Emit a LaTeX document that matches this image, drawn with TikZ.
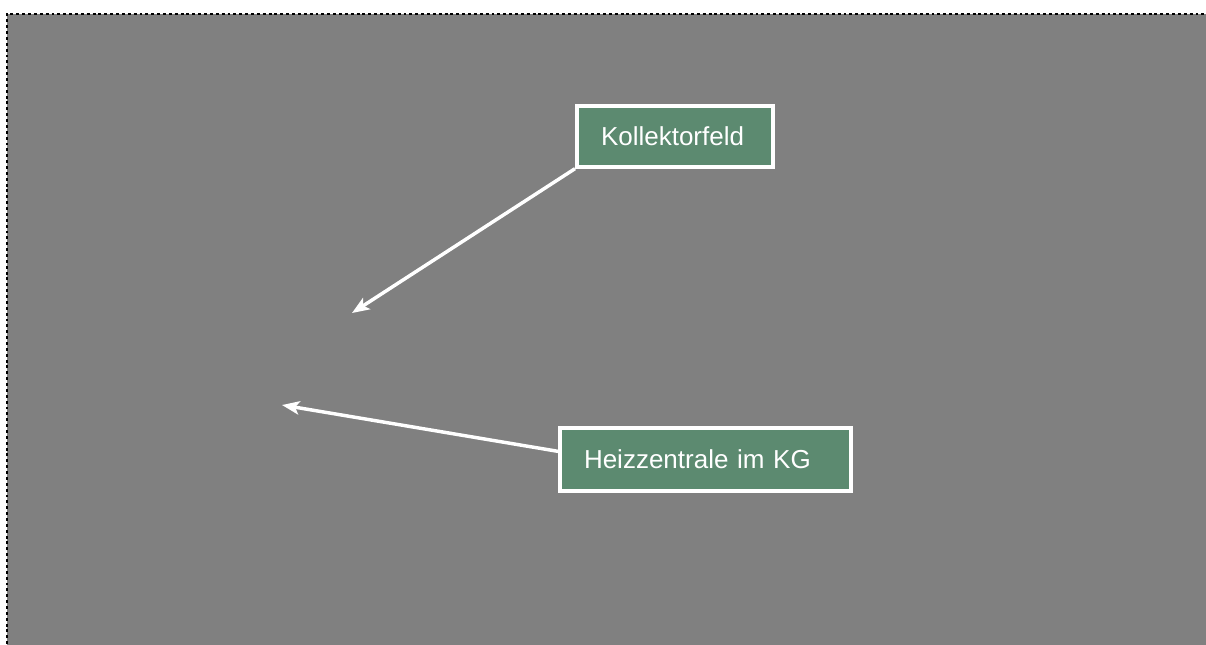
\documentclass[tikz,border=0pt]{standalone}
\usepackage{fontspec}
\setmainfont{Liberation Sans}
\usetikzlibrary{arrows.meta,positioning}
\definecolor{plangrey}{RGB}{128,128,128}
\definecolor{labelgreen}{RGB}{92,138,112}
\tikzset{
  labelbox/.style={draw=white,line width=3pt,fill=labelgreen,text=white,
    anchor=north west,inner xsep=18pt,inner ysep=0pt,align=left,
    font=\fontsize{19.5}{22}\selectfont},
  pointer/.style={-{Stealth[length=13pt,width=10pt,inset=3pt]},draw=white,line width=2.6pt}
}

\begin{document}
\begin{tikzpicture}[x=0.75pt,y=-0.75pt]
  \useasboundingbox (0,0) rectangle (1206,644);
  \clip (0,0) rectangle (1206,644);
  % plan background
  \fill[plangrey] (7,14) rectangle (1212,650);
  \draw[black,line width=2.2pt,dash pattern=on 2.2pt off 2.2pt] (7,650) -- (7,14) -- (1212,14);
  % labels
  \node[labelbox,minimum width=147pt,minimum height=45.5pt,text width=111pt]
    (kollektor) at (575,104) {Kollektorfeld};
  \node[labelbox,minimum width=218pt,minimum height=47pt,text width=182pt]
    (heizung) at (558,426) {Heizzentrale im KG};
  \coordinate (dach) at (352,313);
  \coordinate (keller) at (282,405);
  \draw[pointer] (kollektor.south west) -- (dach);
  \draw[pointer] ([yshift=6pt]heizung.west) -- (keller);
\end{tikzpicture}
\end{document}
